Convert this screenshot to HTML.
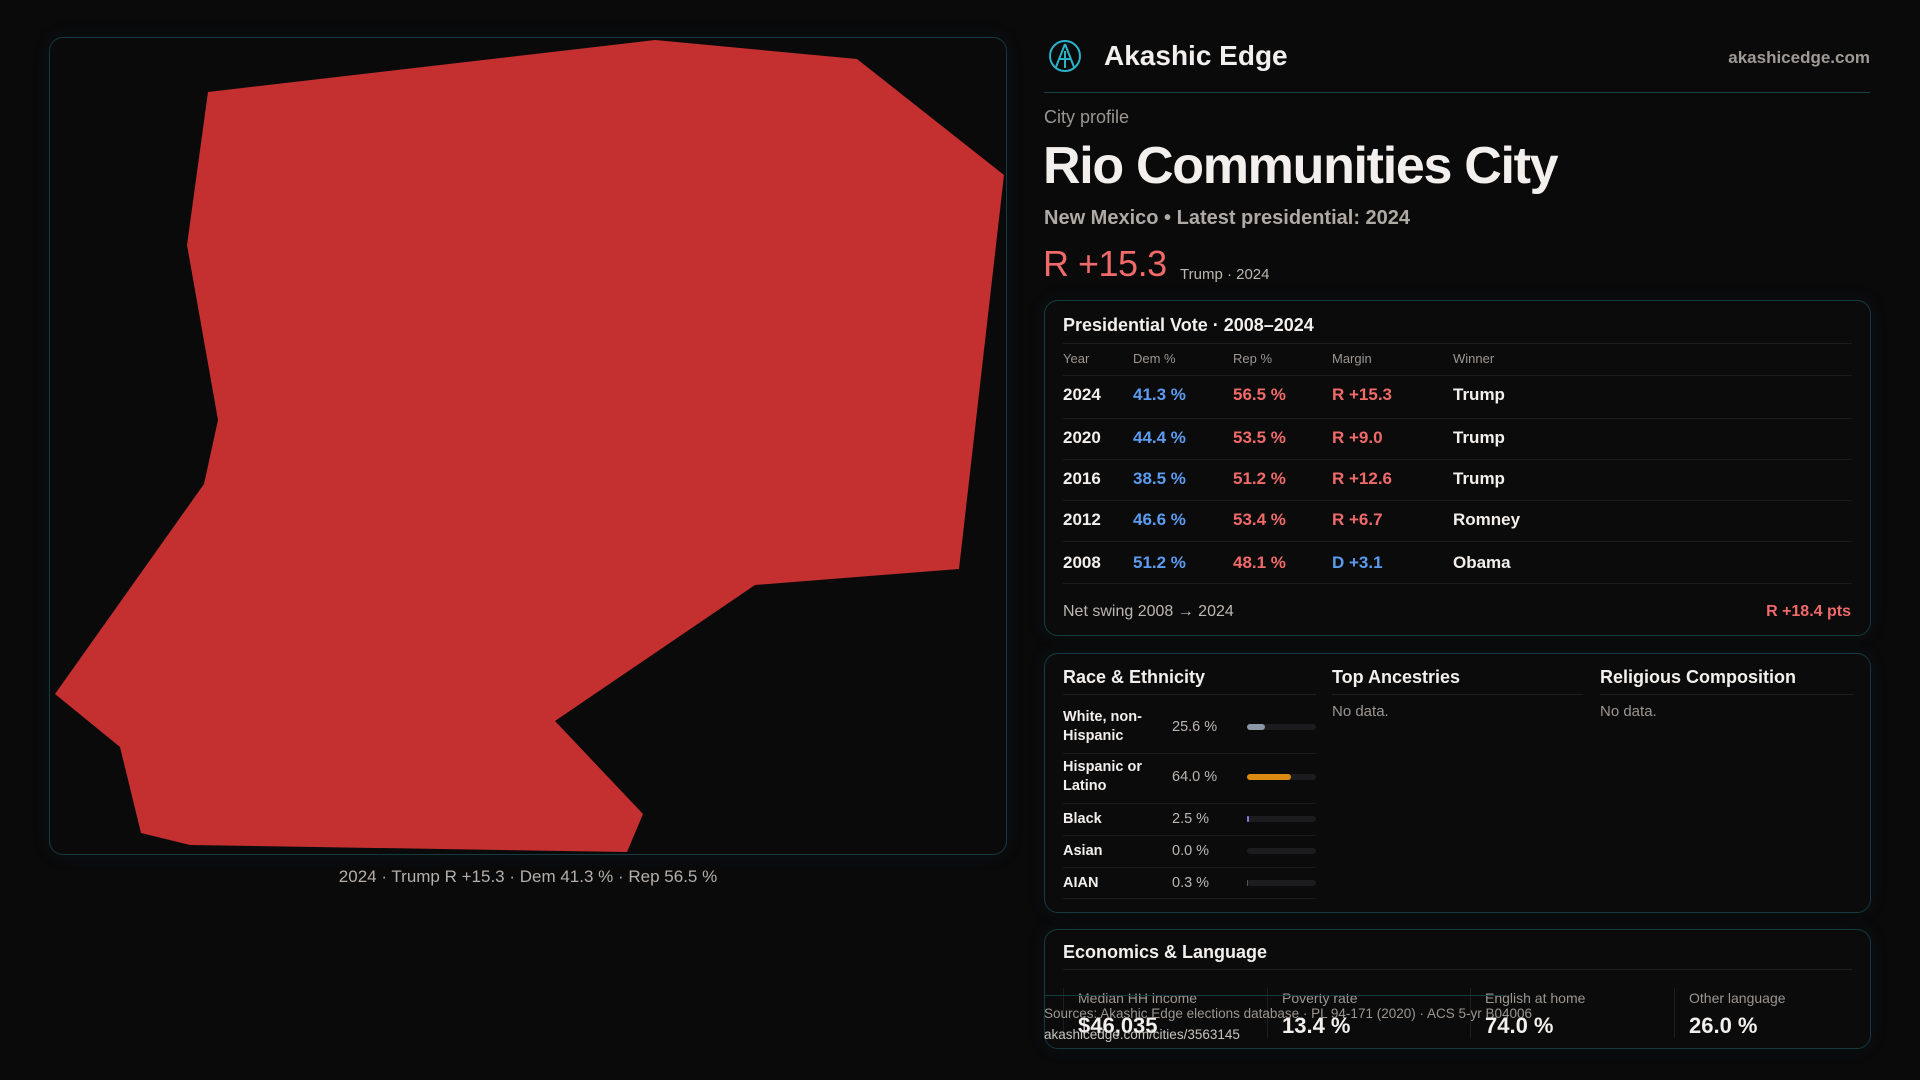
<!DOCTYPE html>
<html><head><meta charset="utf-8">
<style>
*{box-sizing:border-box;margin:0;padding:0}
body{width:1920px;height:1080px;background:#0a0a0b;font-family:"Liberation Sans",sans-serif;color:#f2efec;position:relative;overflow:hidden}
.abs{position:absolute}
.card{position:absolute;border:1px solid #173a40;border-radius:14px;background:#0b0b0c;box-shadow:0 0 18px rgba(20,80,90,0.12)}
.muted{color:#9c9691}
.dem{color:#5b9cf0}.rep{color:#f06a6a}
</style></head><body>
<div class="card" style="left:49px;top:37px;width:958px;height:818px;background:#0a0a0b"></div>
<svg class="abs" style="left:0;top:0" width="1920" height="1080">
<polygon fill="#c42f2f" points="208,92 655,40 857,59 1004,175 959,569 755,585 555,721 643,814 627,852 190,845 141,833 120,747 55,694 204,484 218,420 187,245"/>
</svg>
<div class="abs muted" style="left:49px;width:958px;top:867px;text-align:center;font-size:17px;color:#b5afaa">2024 · Trump R +15.3 · Dem 41.3 % · Rep 56.5 %</div>

<svg class="abs" style="left:1048px;top:39px" width="34" height="34"><circle cx="17" cy="17" r="15" fill="none" stroke="#2bb3c8" stroke-width="2"/><path d="M17 5 L8 28 M17 5 L26 28 M11 20 L23 20 M17 12 L17 29" stroke="#2bb3c8" stroke-width="2" fill="none"/></svg>
<div class="abs" style="left:1104px;top:40px;font-size:28px;font-weight:700">Akashic Edge</div>
<div class="abs muted" style="right:50px;top:48px;font-size:17px;font-weight:700;color:#a09a95">akashicedge.com</div>
<div class="abs" style="left:1044px;top:92px;width:826px;height:1px;background:#1b4148"></div>
<div class="abs muted" style="left:1044px;top:107px;font-size:18px">City profile</div>
<div class="abs" style="left:1043px;top:136px;font-size:52px;font-weight:700;letter-spacing:-1.3px">Rio Communities City</div>
<div class="abs" style="left:1044px;top:207px;font-size:20px;font-weight:700;color:#b0aaa5">New Mexico • Latest presidential: 2024</div>
<div class="abs rep" style="left:1043px;top:243px;font-size:36px;letter-spacing:-0.5px">R +15.3</div>
<div class="abs" style="left:1180px;top:266px;font-size:15px;color:#bdb7b2">Trump · 2024</div>

<div class="card" style="left:1044px;top:300px;width:827px;height:336px"></div>
<div class="abs" style="left:1063px;top:315px;font-size:18px;font-weight:700">Presidential Vote · 2008–2024</div>
<div class="abs" style="left:1063px;top:343px;width:789px;height:1px;background:#1e1e20"></div>
<div id="vote"></div>
<div class="abs" style="left:1063px;top:603px;font-size:16px;color:#bdb7b2">Net swing 2008 → 2024</div>
<div class="abs rep" style="right:69px;top:603px;font-size:16px;font-weight:700">R +18.4 pts</div>

<div class="card" style="left:1044px;top:653px;width:827px;height:260px"></div>
<div class="abs" style="left:1063px;top:667px;font-size:18px;font-weight:700">Race &amp; Ethnicity</div>
<div class="abs" style="left:1332px;top:667px;font-size:18px;font-weight:700">Top Ancestries</div>
<div class="abs" style="left:1600px;top:667px;font-size:18px;font-weight:700">Religious Composition</div>
<div class="abs" style="left:1063px;top:694px;width:253px;height:1px;background:#1e1e20"></div>
<div class="abs" style="left:1332px;top:694px;width:251px;height:1px;background:#1e1e20"></div>
<div class="abs" style="left:1600px;top:694px;width:254px;height:1px;background:#1e1e20"></div>
<div class="abs muted" style="left:1332px;top:703px;font-size:15px">No data.</div>
<div class="abs muted" style="left:1600px;top:703px;font-size:15px">No data.</div>
<div id="race"></div>

<div class="card" style="left:1044px;top:929px;width:827px;height:120px"></div>
<div class="abs" style="left:1063px;top:942px;font-size:18px;font-weight:700">Economics &amp; Language</div>
<div class="abs" style="left:1063px;top:969px;width:789px;height:1px;background:#1e1e20"></div>
<div id="econ"></div>
<div class="abs" style="left:1044px;top:995px;width:461px;height:1px;background:#173a40"></div>
<div class="abs muted" style="left:1044px;top:1006px;font-size:13.5px">Sources: Akashic Edge elections database · PL 94-171 (2020) · ACS 5-yr B04006</div>
<div class="abs muted" style="left:1044px;top:1027px;font-size:13.5px;color:#c9c4bf">akashicedge.com/cities/3563145</div>

<script>
const years=["2024","2020","2016","2012","2008"];
const demPct=[41.3,44.4,38.5,46.6,51.2];
const repPct=[56.5,53.5,51.2,53.4,48.1];
const margins=["R +15.3","R +9.0","R +12.6","R +6.7","D +3.1"];
const winners=["Trump","Trump","Trump","Romney","Obama"];
const raceLabels=["White, non-<br>Hispanic","Hispanic or<br>Latino","Black","Asian","AIAN"];
const raceValues=[25.6,64.0,2.5,0.0,0.3];
const raceColors=["#8a96a6","#d98b12","#8a7ad8","#555","#555"];
const econLabels=["Median HH income","Poverty rate","English at home","Other language"];
const econValues=["$46,035","13.4 %","74.0 %","26.0 %"];

function mk(parent,style,html){const d=document.createElement('div');d.className='abs';d.style.cssText=style;d.innerHTML=html;parent.appendChild(d);return d;}
const vote=document.getElementById('vote');
const cols=[1063,1133,1233,1332,1453];
["Year","Dem %","Rep %","Margin","Winner"].forEach((h,i)=>{
  const e=mk(vote,`left:${cols[i]}px;top:351px;font-size:13px;color:#9c9691`,h);
  
  
});
const rowY=[394,437,478,519,562];
[375,418,459,500,541,583].forEach(y=>mk(vote,`left:1063px;top:${y}px;width:789px;height:1px;background:#1c1c1e`,''));
years.forEach((y,i)=>{
  const top=rowY[i]-9;
  const isR=margins[i].startsWith('R');
  const vals=[[y,'#f2efec'],[demPct[i].toFixed(1)+' %','#5b9cf0'],[repPct[i].toFixed(1)+' %','#f06a6a'],[margins[i],isR?'#f06a6a':'#5b9cf0'],[winners[i],'#f2efec']];
  vals.forEach((v,j)=>{
    const e=mk(vote,`left:${cols[j]}px;top:${top}px;font-size:17px;font-weight:700;color:${v[1]}`,v[0]);
    
    
  });
});
const race=document.getElementById('race');
const rc=[726,776,818,850,882];
[753,803,835,867,898].forEach(y=>mk(race,`left:1063px;top:${y}px;width:253px;height:1px;background:#1c1c1e`,''));
raceLabels.forEach((l,i)=>{
  const two=l.includes('<br>');
  const e=mk(race,`left:1063px;top:${rc[i]-(two?18:8)}px;font-size:14.5px;font-weight:700;line-height:19px`,l);
  
  
  const p=mk(race,`left:1172px;top:${rc[i]-7}px;font-size:14.5px;color:#bdb7b2`,raceValues[i].toFixed(1)+' %');
  
  
  mk(race,`left:1247px;top:${rc[i]-2}px;width:69px;height:6px;border-radius:3px;background:#1c1c1f`,'');
  const b=mk(race,`left:1247px;top:${rc[i]-2}px;width:${Math.max(69*raceValues[i]/100,raceValues[i]>1?1.5:0)}px;height:6px;border-radius:3px;background:${raceColors[i]}`,'');
  
  
});
const econ=document.getElementById('econ');
const ex=[1063,1267,1470,1674];
econLabels.forEach((l,i)=>{
  mk(econ,`left:${ex[i]}px;top:988px;width:1px;height:50px;background:#1e1e20`,'');
  const a=mk(econ,`left:${ex[i]+15}px;top:990px;font-size:14px;color:#9c9691`,l);
  
  
  const v=mk(econ,`left:${ex[i]+15}px;top:1013px;font-size:22px;font-weight:700`,econValues[i]);
  
  
});
</script>
</body></html>
